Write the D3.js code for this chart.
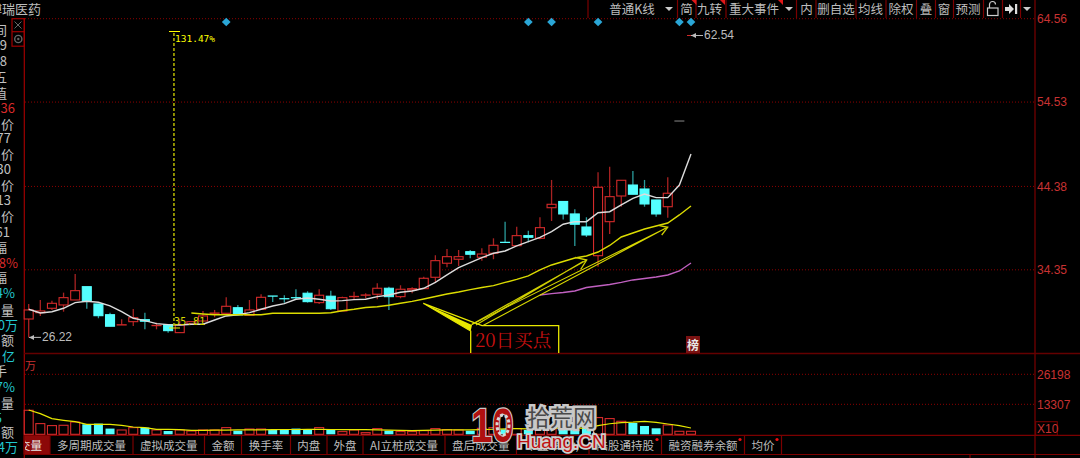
<!DOCTYPE html>
<html>
<head>
<meta charset="utf-8">
<style>
  html, body { margin: 0; padding: 0; background: #000; overflow: hidden; }
  svg { display: block; }
  text { font-family: "Noto Sans CJK SC", sans-serif; }
  .num { font-family: "Liberation Sans", Arial, sans-serif; }
</style>
</head>
<body>
<script src="https://cdn.jsdelivr.net/npm/d3@7"></script>
<script>
// 日K线 开高低收
let opens = [28.43, 29.19, 29.72, 30.12, 30.72, 32.32, 30.24, 28.95, 27.71, 28.11, 28.35, 27.63, 27.75, 26.79, 27.83, 28.19, 29.12, 29.12, 29.79, 28.88, 29.60, 31.20, 30.88, 31.00, 31.53, 30.40, 31.17, 29.40, 31.12, 31.29, 31.41, 32.13, 31.12, 31.92, 32.08, 33.45, 35.14, 35.62, 36.53, 35.86, 36.34, 37.66, 37.25, 38.46, 38.14, 41.82, 42.57, 41.07, 39.50, 36.05, 40.14, 43.23, 44.55, 44.07, 42.75, 41.94]
let highs = [30.24, 30.72, 30.64, 31.60, 33.85, 32.32, 30.24, 29.19, 28.40, 29.64, 29.19, 27.99, 27.75, 28.43, 28.11, 29.40, 29.52, 31.04, 30.12, 30.72, 31.41, 31.20, 31.29, 32.01, 31.77, 32.01, 31.84, 31.12, 31.72, 31.53, 32.73, 32.32, 32.49, 32.25, 33.52, 36.10, 36.86, 36.73, 36.73, 36.94, 38.14, 40.14, 39.54, 39.06, 40.67, 45.16, 42.57, 41.63, 40.67, 46.08, 46.76, 45.12, 46.24, 45.16, 42.75, 45.48]
let lows = [26.22, 28.80, 29.52, 29.31, 30.72, 29.67, 28.52, 27.56, 27.71, 27.59, 27.19, 27.19, 26.79, 26.79, 27.83, 28.19, 28.64, 29.12, 28.92, 28.88, 29.52, 30.48, 30.40, 30.80, 30.40, 30.24, 29.52, 29.40, 30.72, 30.92, 30.80, 29.52, 30.92, 31.53, 32.08, 32.80, 34.65, 34.81, 35.74, 35.45, 35.62, 37.64, 37.25, 37.66, 38.02, 40.22, 40.40, 37.22, 38.30, 34.73, 38.66, 41.94, 43.44, 41.94, 40.74, 40.62]
let closes = [29.52, 29.40, 30.32, 31.00, 31.84, 30.56, 28.83, 27.56, 27.74, 28.59, 28.16, 27.66, 27.03, 27.71, 28.11, 28.80, 29.15, 29.96, 28.92, 29.52, 31.04, 31.18, 30.86, 30.98, 30.52, 31.29, 29.67, 31.00, 31.15, 31.32, 32.13, 31.12, 32.01, 32.08, 33.33, 35.45, 35.93, 35.93, 36.22, 36.25, 37.30, 37.64, 38.46, 38.26, 39.42, 42.23, 41.07, 39.83, 38.54, 44.28, 43.15, 45.12, 43.44, 42.27, 41.07, 43.56]

// 均线
let ma5 = [29.60, 29.16, 29.31, 29.72, 30.40, 30.56, 30.44, 30.00, 29.31, 28.52, 28.23, 27.87, 27.75, 27.71, 27.80, 27.80, 28.31, 28.80, 28.95, 29.19, 29.60, 30.00, 30.28, 30.80, 30.96, 30.80, 30.60, 30.64, 30.76, 30.80, 31.12, 31.32, 31.65, 31.80, 32.13, 32.85, 33.73, 34.61, 35.21, 35.81, 36.34, 36.61, 37.22, 37.73, 38.26, 38.94, 39.83, 40.14, 40.14, 41.22, 41.34, 42.15, 42.95, 43.47, 43.03, 43.03, 44.55, 48.28]
let ma20 = [29.16, 29.04, 28.95, 28.95, 28.95, 28.95, 28.95, 29.12, 29.12, 29.12, 29.12, 29.12, 29.19, 29.43, 29.60, 29.82, 29.90, 30.09, 30.32, 30.55, 30.84, 31.14, 31.44, 31.68, 31.96, 32.22, 32.44, 32.83, 33.19, 33.61, 34.33, 34.93, 35.35, 35.77, 36.01, 36.49, 37.28, 38.30, 38.78, 39.26, 39.62, 39.98, 40.95, 42.03]
let ma60 = [31.32, 31.48, 31.62, 31.80, 32.22, 32.40, 32.58, 32.83, 33.13, 33.31, 33.49, 33.73, 34.21, 35.17]

// 成交量
let volumes = [10750, 5030, 4170, 4300, 5720, 4730, 5030, 2880, 2280, 3310, 3310, 2280, 1850, 2280, 1850, 2280, 2280, 3310, 1980, 2710, 2710, 2280, 2280, 2880, 2450, 3310, 2450, 1590, 2280, 1160, 2880, 1980, 1590, 1590, 1980, 2880, 2450, 2280, 1980, 3000, 3300, 2600, 2900, 2300, 3300, 3600, 3000, 2600, 3600, 7610, 7180, 6020, 5290, 4000, 3010, 4430, 1720, 1720]
let volDown = [5, 6, 7, 10, 12, 18, 21, 22, 23, 24, 26, 31, 38, 41, 43, 46, 47, 48, 52, 53, 54]
let volMa = [10880, 9290, 7140, 6450, 5850, 4730, 4730, 4730, 4300, 3570, 3270, 2580, 2580, 2410, 2150, 2150, 2200, 2250, 2300, 2300, 2350, 2400, 2500, 2500, 2550, 2550, 2500, 2450, 2500, 2400, 2300, 2200, 2100, 2050, 2100, 2200, 2300, 2300, 2300, 2400, 2600, 2800, 2900, 2800, 2900, 3100, 3200, 3100, 3100, 4130, 4950, 5420, 5630, 6020, 5590, 4860, 4130, 3140]

// 坐标刻度
let priceTicks = [64.56, 54.53, 44.38, 34.35]
let volumeTicks = [26198, 13307]

// 其他标注
let eventDays = [17, 43, 45, 49, 56, 57]
let hiddenDoji = [56, 52.25]
let tabNames = ['成交量', '多周期成交量', '虚拟成交量', '金额', '换手率', '内盘', '外盘', 'AI立桩成交量', '盘后成交量', '市盈率(动)', '陆股通持股', '融资融券余额', '均价']
let tabEdges = [24, 50, 133, 204.5, 241.5, 290.5, 327, 363, 445, 516.5, 589, 661.5, 744.5, 781.5]
let tabDots = [10, 11, 12]
let toolNames = ['普通K线', '简', '九转', '重大事件', '内', '删自选', '均线', '除权', '叠', '窗', '预测']
let toolCenters = [632, 686.5, 709.5, 754, 806.5, 836, 870.5, 901, 926, 944, 968]
let toolEdges = [588, 677.5, 696, 726, 796.5, 816, 856, 886, 916.5, 935.5, 953.5, 983.5, 1002.5, 1020.5]
let leftLabels = [
  ['间', 7, 30, '#c0c0c0'], ['9', 7, 45, '#c0c0c0'], ['8', 7, 61, '#c0c0c0'], ['五', 7, 77, '#c0c0c0'], ['值', 7, 93, '#c0c0c0'],
  ['36', 15, 108, '#d82a2a'], ['价', 14, 124, '#c0c0c0'], ['77', 11, 138, '#c0c0c0'], ['价', 14, 154, '#c0c0c0'], ['30', 11, 169, '#c0c0c0'],
  ['价', 14, 185, '#c0c0c0'], ['13', 11, 200, '#c0c0c0'], ['价', 14, 216, '#c0c0c0'], ['61', 10, 232, '#c0c0c0'], ['幅', 7, 247, '#c0c0c0'],
  ['.8%', 18, 263, '#d82a2a'], ['幅', 7, 277, '#c0c0c0'], ['54%', 15, 293, '#22c8d0'], ['量', 14, 310, '#c0c0c0'], ['0万', 18, 325, '#22c8d0'],
  ['额', 14, 340, '#c0c0c0'], ['亿', 15, 356, '#22c8d0'], ['手', 7, 371, '#c0c0c0'], ['37%', 15, 387, '#22c8d0'], ['量', 14, 403, '#c0c0c0'],
  ['5', 2, 418, '#22c8d0'], ['额', 14, 432, '#c0c0c0'], ['4万', 18, 447, '#22c8d0']
]

let width = 1080
let height = 458
let darkRed = '#7c0000'
let textGray = '#bcbcbc'
let upRed = '#d42a2a'
let upWick = '#a82222'
let downCyan = '#54ffff'
let downWick = '#2a9c9c'

let svg = d3.select('body').append('svg').attr('width', width).attr('height', height)
svg.append('rect').attr('width', width).attr('height', height).attr('fill', '#000')
svg.append('clipPath').attr('id', 'tabClip').append('rect')
  .attr('x', 25).attr('y', 436).attr('width', 25).attr('height', 18)

// 比例尺
let x = d3.scaleLinear().domain([0, 57]).range([28.7, 691])
let y = d3.scaleLinear().domain([64.56, 34.35]).range([18.7, 269.8])
let yVol = d3.scaleLinear().domain([0, 26198]).range([435.3, 374.3])
let bodyW = 9

// 网格虚线
svg.append('g').selectAll('line').data(priceTicks).enter().append('line')
  .attr('x1', 25).attr('x2', 1035).attr('y1', d => y(d)).attr('y2', d => y(d))
  .attr('stroke', '#8c0000').attr('stroke-dasharray', '1,2')
svg.append('g').selectAll('line').data(volumeTicks).enter().append('line')
  .attr('x1', 25).attr('x2', 1035).attr('y1', d => yVol(d)).attr('y2', d => yVol(d))
  .attr('stroke', '#8c0000').attr('stroke-dasharray', '1,2')

// 框线
let frame = svg.append('g').attr('stroke', darkRed).attr('stroke-width', 1.2)
frame.append('line').attr('x1', 24.3).attr('x2', 24.3).attr('y1', 18).attr('y2', 458).attr('stroke', '#a00000')
frame.append('line').attr('x1', 1035).attr('x2', 1035).attr('y1', 0).attr('y2', 458)
frame.append('line').attr('x1', 24).attr('x2', 1080).attr('y1', 353.5).attr('y2', 353.5).attr('stroke', '#640000').attr('stroke-width', 1.6)
frame.append('line').attr('x1', 24).attr('x2', 1080).attr('y1', 435.3).attr('y2', 435.3)
frame.append('line').attr('x1', 24).attr('x2', 1080).attr('y1', 454.5).attr('y2', 454.5)
frame.append('line').attr('x1', 970).attr('x2', 970).attr('y1', 454.5).attr('y2', 458)

// 成交量柱
let volDownSet = new Set(volDown)
svg.append('g').selectAll('rect').data(volumes).enter().append('rect')
  .attr('x', (d, i) => x(i) - bodyW / 2)
  .attr('y', d => yVol(d))
  .attr('width', bodyW)
  .attr('height', d => yVol(0) - yVol(d) - 1)
  .attr('fill', (d, i) => volDownSet.has(i) ? downCyan : 'none')
  .attr('stroke', (d, i) => volDownSet.has(i) ? 'none' : upRed)
  .attr('stroke-width', 1.1)
svg.append('path').datum(volMa)
  .attr('d', d3.line().x((d, i) => x(i)).y(d => yVol(d)))
  .attr('fill', 'none').attr('stroke', '#e8e800').attr('stroke-width', 1.2)

// K线
let candles = svg.append('g').selectAll('g').data(d3.range(opens.length)).enter().append('g')
candles.append('line')
  .attr('x1', i => x(i)).attr('x2', i => x(i))
  .attr('y1', i => y(highs[i])).attr('y2', i => y(lows[i]))
  .attr('stroke', i => closes[i] >= opens[i] ? upWick : downWick)
  .attr('stroke-width', 1.3)
candles.append('rect')
  .attr('x', i => x(i) - bodyW / 2)
  .attr('y', i => y(Math.max(opens[i], closes[i])))
  .attr('width', bodyW)
  .attr('height', i => Math.abs(y(opens[i]) - y(closes[i])))
  .attr('fill', i => closes[i] >= opens[i] ? '#000' : downCyan)
  .attr('stroke', i => closes[i] >= opens[i] ? upRed : downCyan)
  .attr('stroke-width', 1.1)

// 未显示K线留下的短横
svg.append('line')
  .attr('x1', x(hiddenDoji[0]) - 5).attr('x2', x(hiddenDoji[0]) + 5)
  .attr('y1', y(hiddenDoji[1])).attr('y2', y(hiddenDoji[1]))
  .attr('stroke', '#8a8a8a')

// 均线
let maLine = (start) => d3.line().x((d, i) => x(i + start)).y(d => y(d))
svg.append('path').datum(ma5).attr('d', maLine(0))
  .attr('fill', 'none').attr('stroke', '#dcdcdc').attr('stroke-width', 1.4)
svg.append('path').datum(ma20).attr('d', maLine(14))
  .attr('fill', 'none').attr('stroke', '#dcdc00').attr('stroke-width', 1.4)
svg.append('path').datum(ma60).attr('d', maLine(44))
  .attr('fill', 'none').attr('stroke', '#c060c0').attr('stroke-width', 1.4)

// 右侧坐标
let priceAxis = d3.axisRight(y).tickValues(priceTicks).tickSize(0).tickPadding(2).tickFormat(d => d.toFixed(2))
let volAxis = d3.axisRight(yVol).tickValues(volumeTicks).tickSize(0).tickPadding(2)
  .tickFormat(d => d3.format('d')(d))
;[[priceAxis], [volAxis]].forEach(function (a) {
  let g = svg.append('g').attr('transform', 'translate(1035,0)').call(a[0])
  g.select('.domain').remove()
  g.selectAll('text').attr('class', 'num').attr('fill', '#c83232').style('font-size', '12px')
    .style('font-family', '"Liberation Sans", Arial, sans-serif')
})

// X10
svg.append('rect').attr('x', 1035.7).attr('y', 421.7).attr('width', 21.6).attr('height', 13.6)
  .attr('fill', 'none').attr('stroke', darkRed)
svg.append('text').attr('class', 'num').attr('x', 1037).attr('y', 433).attr('fill', '#c83232')
  .style('font-size', '12px').text('X10')
svg.append('text').attr('x', 25).attr('y', 370).attr('fill', '#c83232').style('font-size', '11px').text('万')

// 特殊事件菱形
svg.append('g').selectAll('path').data(eventDays).enter().append('path')
  .attr('d', d3.symbol().type(d3.symbolSquare).size(38))
  .attr('transform', d => 'translate(' + x(d) + ',22) rotate(45)')
  .attr('fill', '#2aa6d6')

// 区间统计
svg.append('line').attr('x1', x(12.5)).attr('x2', x(12.5)).attr('y1', 33).attr('y2', 326)
  .attr('stroke', '#b0b000').attr('stroke-width', 1.6).attr('stroke-dasharray', '3,2')
svg.append('line').attr('x1', 169).attr('x2', 180).attr('y1', 31.5).attr('y2', 31.5).attr('stroke', '#ffff00')
svg.append('line').attr('x1', 169).attr('x2', 180).attr('y1', 328).attr('y2', 328).attr('stroke', '#e8e800')
svg.append('text').attr('x', 175).attr('y', 42).attr('fill', '#ffff00')
  .style('font-family', '"DejaVu Sans Mono", monospace').style('font-size', '9.5px').text('131.47%')
svg.append('text').attr('x', 174).attr('y', 325).attr('fill', '#d8d800')
  .style('font-family', '"DejaVu Sans Mono", monospace').style('font-size', '10px').attr('letter-spacing', '0.3').text('35.81')

// 最高最低价
let arrowMark = function (x1, x2, yy) {
  svg.append('line').attr('x1', x1).attr('x2', x2).attr('y1', yy).attr('y2', yy).attr('stroke', '#bbb')
  svg.append('path').attr('d', 'M' + x1 + ',' + yy + 'l5,-2.5v5z').attr('fill', '#bbb')
}
arrowMark(29, 41, y(26.22))
svg.append('text').attr('class', 'num').attr('x', 42).attr('y', y(26.22) + 4).attr('fill', textGray)
  .style('font-size', '12px').text('26.22')
svg.append('line').attr('x1', 687).attr('x2', 691).attr('y1', y(62.54)).attr('y2', y(62.54)).attr('stroke', '#d42a2a')
arrowMark(691, 703, y(62.54))
svg.append('text').attr('class', 'num').attr('x', 704).attr('y', y(62.54) + 4).attr('fill', textGray)
  .style('font-size', '12px').text('62.54')

// 20日买点 批注
let note = svg.append('g')
note.append('path').attr('d', 'M470.7,353V331L423.3,303.3L482,325.7H558.7V353')
  .attr('fill', 'none').attr('stroke', '#e8e800').attr('stroke-width', 1.3)
note.append('path').attr('d', 'M423.3,303.3L472,325L470.7,331Z').attr('fill', '#e8e800')
note.append('path').attr('d', 'M471.7,324.5L586.7,260M476,325L583,261.5').attr('stroke', '#d0d000').attr('stroke-width', 1.2).attr('fill', 'none')
note.append('path').attr('d', 'M575,257.3L586.7,260L580.7,269.3').attr('stroke', '#d0d000').attr('stroke-width', 1.3).attr('fill', 'none')
note.append('path').attr('d', 'M471.7,324.5L667.7,227.3M483,325.5L665,228.5').attr('stroke', '#d8d800').attr('stroke-width', 1.1).attr('fill', 'none')
note.append('path').attr('d', 'M659.3,225.7L667.7,227.3L661.7,235').attr('stroke', '#d0d000').attr('stroke-width', 1.3).attr('fill', 'none')
note.append('text').attr('x', 475).attr('y', 347).attr('fill', '#c81010')
  .style('font-family', '"Noto Serif CJK SC", "Liberation Serif", "Noto Sans CJK SC", serif').style('font-size', '18.5px').text('20日买点')

// 榜
svg.append('rect').attr('x', 686).attr('y', 336).attr('width', 14).attr('height', 17).attr('fill', '#7a1212')
svg.append('text').attr('x', 693).attr('y', 350).attr('text-anchor', 'middle').attr('fill', '#e8e8e8')
  .style('font-size', '12px').style('font-weight', 700).text('榜')

// 顶部工具条
svg.append('text').attr('x', 41).attr('y', 14).attr('text-anchor', 'end').attr('fill', textGray)
  .style('font-size', '13px').text('博瑞医药')
svg.append('g').selectAll('line').data(toolEdges).enter().append('line')
  .attr('x1', d => d).attr('x2', d => d).attr('y1', 0).attr('y2', 18)
  .attr('stroke', darkRed).attr('stroke-width', 1.2)
svg.append('g').selectAll('text').data(toolNames).enter().append('text')
  .attr('x', (d, i) => toolCenters[i]).attr('y', 14).attr('text-anchor', 'middle')
  .attr('fill', textGray).style('font-size', '12.5px').text(d => d)
// 下拉三角
;[669, 789, 1027].forEach(function (cx) {
  svg.append('path').attr('d', 'M' + (cx - 4) + ',7h8l-4,4z').attr('fill', '#ccc')
})
// 红角标
;[697.5, 726, 784].forEach(function (cx) {
  svg.append('path').attr('d', 'M' + (cx - 6) + ',0h5v5z').attr('fill', '#e01818')
})
// 锁 和 跳转图标
svg.append('rect').attr('x', 987.5).attr('y', 8).attr('width', 10.5).attr('height', 7.5).attr('fill', 'none').attr('stroke', '#ccc').attr('stroke-width', 1.2)
svg.append('path').attr('d', 'M989.5,8V4.5a3,3 0 0 1 6,0').attr('fill', 'none').attr('stroke', '#ccc').attr('stroke-width', 1.2)
svg.append('path').attr('d', 'M1005,7h4V4l5,5l-5,5v-3h-4z').attr('fill', '#ddd')
svg.append('rect').attr('x', 1015).attr('y', 4).attr('width', 2.2).attr('height', 10).attr('fill', '#ddd')

// 左边栏 关闭和设置按钮
svg.append('rect').attr('x', 12).attr('y', 18.7).attr('width', 12.3).attr('height', 27.5).attr('fill', 'none').attr('stroke', '#a00000').attr('stroke-width', 1.2)
svg.append('line').attr('x1', 12).attr('x2', 24.3).attr('y1', 31.7).attr('y2', 31.7).attr('stroke', '#a00000').attr('stroke-width', 1.2)
svg.append('path').attr('d', 'M14.5,21.5l7,7M21.5,21.5l-7,7').attr('stroke', '#666').attr('fill', 'none')
svg.append('circle').attr('cx', 18.3).attr('cy', 39).attr('r', 3.6).attr('fill', 'none').attr('stroke', '#666').attr('stroke-width', 1.4)
svg.append('circle').attr('cx', 18.3).attr('cy', 39).attr('r', 1.2).attr('fill', '#666')

svg.append('g').selectAll('text').data(leftLabels).enter().append('text')
  .attr('x', d => d[1]).attr('y', d => d[2] + 5).attr('text-anchor', 'end')
  .attr('fill', d => d[3]).style('font-size', '13px').text(d => d[0])

// 底部标签
svg.append('rect').attr('x', 24.5).attr('y', 436).attr('width', 25.5).attr('height', 18).attr('fill', '#8c0808')
svg.append('g').selectAll('line').data(tabEdges).enter().append('line')
  .attr('x1', d => d).attr('x2', d => d).attr('y1', 435.3).attr('y2', 454.5)
  .attr('stroke', darkRed).attr('stroke-width', 1.2)
svg.append('g').selectAll('text').data(tabNames).enter().append('text')
  .attr('x', (d, i) => i == 0 ? 42 : (tabEdges[i] + tabEdges[i + 1]) / 2)
  .attr('y', 449.5).attr('text-anchor', (d, i) => i == 0 ? 'end' : 'middle')
  .attr('clip-path', (d, i) => i == 0 ? 'url(#tabClip)' : null)
  .attr('fill', (d, i) => i == 0 ? '#e8e8e8' : textGray).style('font-size', '11.5px').text(d => d)
svg.append('g').selectAll('circle').data(tabDots).enter().append('circle')
  .attr('cx', d => tabEdges[d + 1] - 4.5).attr('cy', 439.5).attr('r', 1.6).attr('fill', '#f01010')

// 水印
let mark = svg.append('g')
mark.append('text').attr('transform', 'translate(471,442) scale(0.8,1)')
  .attr('fill', '#b01010').attr('stroke', '#c8c8c8').attr('stroke-width', 2.5).style('paint-order', 'stroke')
  .style('font-family', '"Liberation Sans", sans-serif').style('font-weight', 700).style('font-size', '48px').text('10')
mark.append('ellipse').attr('cx', 503).attr('cy', 425).attr('rx', 6).attr('ry', 10)
  .attr('fill', 'none').attr('stroke', '#d8d8d8').attr('stroke-width', 3).attr('stroke-dasharray', '3,2')
mark.append('text').attr('x', 527).attr('y', 426)
  .attr('fill', '#4a4a4a').attr('stroke', '#c8c8c8').attr('stroke-width', 5).style('paint-order', 'stroke')
  .style('font-size', '23px').text('拾荒网')
mark.append('text').attr('x', 517).attr('y', 448)
  .attr('fill', '#c01010').attr('stroke', '#d0d0d0').attr('stroke-width', 3.5).style('paint-order', 'stroke')
  .style('font-family', '"Liberation Sans", sans-serif').style('font-size', '19px').text('Huang.CN')
</script>
</body>
</html>
